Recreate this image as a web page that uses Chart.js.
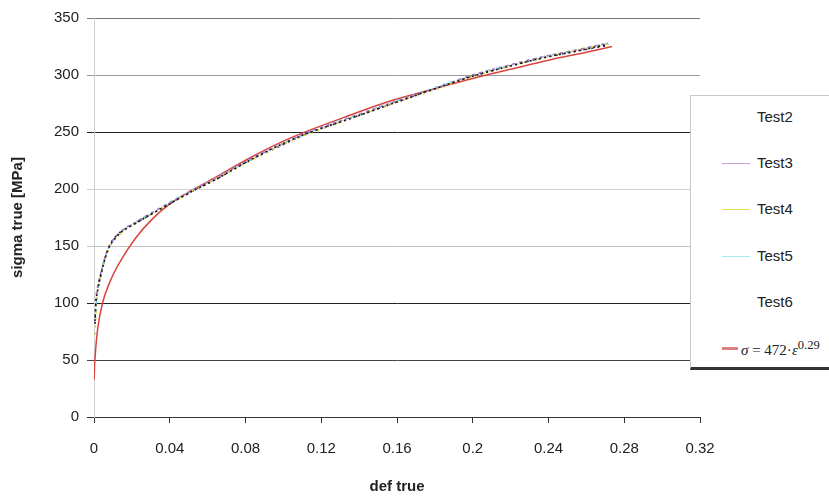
<!DOCTYPE html>
<html>
<head>
<meta charset="utf-8">
<script src="https://cdn.jsdelivr.net/npm/chart.js@4/dist/chart.umd.min.js"></script>
<style>
    html, body { margin: 0; padding: 0; background: #fff; overflow: hidden; }
    #wrap { position: relative; width: 829px; height: 500px; overflow: hidden; }
    #legendBox {
        position: absolute; left: 690px; top: 95px; width: 170px; height: 271px;
        background: #fff; border-left: 1px solid #c8c8c8; border-top: 1px solid #c8c8c8;
        border-bottom: 3px solid #333;
        font-family: "Liberation Sans", Arial, sans-serif; font-size: 15px; color: #222;
    }
    .item { position: absolute; left: 0; height: 20px; width: 170px; }
    .sample { position: absolute; left: 31px; top: 10px; width: 28px; height: 1px; }
    .label { position: absolute; left: 66px; top: 1px; white-space: nowrap; }
    .formula { font-family: "Liberation Serif", "Times New Roman", serif; font-size: 15px; left: 50px; top: 0; }
    .formula i { font-style: italic; }
</style>
</head>
<body>
<div id="wrap">
    <canvas id="myChart" width="829" height="500"></canvas>
    <div id="legendBox"></div>
</div>
<script>
// strain values (def true)
var testStrain = [0.0005, 0.001, 0.002, 0.0037, 0.006, 0.008, 0.013, 0.022, 0.0325, 0.041, 0.053, 0.065,
    0.082, 0.1, 0.113, 0.134, 0.156, 0.18, 0.2, 0.22, 0.237, 0.255, 0.2715]
// sigma true [MPa] per test
var test2Stress = [84, 100, 112, 125, 140, 149, 160, 170, 180, 188, 199, 209, 225, 240, 249, 261, 274, 288, 299, 308, 315, 321, 327]
var test3Stress = [102, 106, 115, 127, 141, 150, 161, 171, 181, 189, 200, 210, 226, 240, 250, 262, 275, 288, 300, 309, 316, 322, 328]
var test4Stress = [68, 90, 110, 124, 139, 148, 159, 170, 180, 188, 199, 209, 224, 239, 248, 261, 274, 287, 299, 308, 315, 322, 327]
var test5Stress = [88, 96, 111, 124, 140, 149, 160, 171, 181, 189, 200, 210, 225, 240, 249, 262, 275, 289, 300, 309, 316, 322, 328]
var test6Stress = [80, 98, 113, 126, 141, 150, 161, 170, 180, 188, 199, 209, 225, 239, 249, 261, 274, 288, 299, 308, 315, 321, 326]

// power law fit sigma = 472 * eps^n
var fitStrain = [0.0001, 0.0003, 0.0006, 0.001, 0.002, 0.0045, 0.008, 0.013, 0.022, 0.031, 0.041, 0.053, 0.065,
    0.082, 0.1, 0.113, 0.134, 0.156, 0.18, 0.2, 0.22, 0.24, 0.26, 0.2735]
var fitStress = [33, 45, 53, 62, 78, 100, 117, 134, 157, 174, 188, 200, 211, 227, 242, 251, 264, 277, 288, 297, 305, 313, 320, 325]

var seriesNames = ["Test2", "Test3", "Test4", "Test5", "Test6"]
var fitName = "<i>\u03c3</i> = 472\u00b7<i>\u03b5</i><sup>0.29</sup>"

var xTicks = [0, 0.04, 0.08, 0.12, 0.16, 0.2, 0.24, 0.28, 0.32]
var yTicks = [0, 50, 100, 150, 200, 250, 300, 350]

// styles
var lineColors = ["#1a1a1a", "#b070c8", "#e6cc30", "#70d8ea", "#202050"]
var legendColors = ["", "#d59ae4", "#f0da50", "#a6eaf4", ""]
var dashes = [[2, 3], [3, 4], [2, 5], [3, 5], [2, 4]]
var gridColors = { 0: "#333", 50: "#444", 100: "#222", 150: "#c4c4c4", 200: "#cfcfcf", 250: "#222", 300: "#999", 350: "#777" }

function toPoints(xs, ys) {
    return xs.map(function (x, i) { return { x: x, y: ys[i] } })
}

window.addEventListener("load", function () {
    var stresses = [test2Stress, test3Stress, test4Stress, test5Stress, test6Stress]
    var datasets = seriesNames.map(function (name, i) {
        return {
            label: name,
            data: toPoints(testStrain, stresses[i]),
            borderColor: lineColors[i],
            borderWidth: 1.6,
            borderDash: dashes[i],
            borderDashOffset: i,
            pointRadius: 0,
            showLine: true,
            cubicInterpolationMode: "monotone"
        }
    })
    datasets.push({
        label: "fit",
        data: toPoints(fitStrain, fitStress),
        borderColor: "#d9443f",
        borderWidth: 1.5,
        pointRadius: 0,
        showLine: true,
        cubicInterpolationMode: "monotone"
    })

    var font = { family: "'Liberation Sans', Arial, sans-serif", size: 15 }

    new Chart("myChart", {
        type: "scatter",
        data: { datasets: datasets },
        options: {
            responsive: false,
            animation: false,
            layout: { padding: { left: 0, right: 129, top: 18, bottom: 0 } },
            plugins: { legend: { display: false }, tooltip: { enabled: false } },
            scales: {
                x: {
                    type: "linear", min: 0, max: 0.32,
                    afterBuildTicks: function (scale) { scale.ticks = xTicks.map(function (v) { return { value: v } }) },
                    afterFit: function (scale) { scale.height = 83 },
                    ticks: {
                        color: "#222", font: font, padding: 17, maxRotation: 0,
                        callback: function (v) { return String(+v.toFixed(2)) }
                    },
                    grid: { drawOnChartArea: false, drawTicks: true, tickLength: 6, color: "#333" },
                    border: { color: "#333", width: 1 },
                    title: {
                        display: true, text: "def true", color: "#222",
                        font: { family: font.family, size: 15, weight: "bold" },
                        padding: { top: 0, bottom: 4 }
                    }
                },
                y: {
                    min: 0, max: 350,
                    afterBuildTicks: function (scale) { scale.ticks = yTicks.map(function (v) { return { value: v } }) },
                    afterFit: function (scale) { scale.width = 94 },
                    ticks: { color: "#222", font: font, padding: 8 },
                    grid: {
                        drawTicks: true, tickLength: 7, lineWidth: 1,
                        color: function (ctx) { return gridColors[ctx.tick.value] || "#999" }
                    },
                    border: { color: "#d0d0d0", width: 1 },
                    title: {
                        display: true, text: "sigma true [MPa]", color: "#222",
                        font: { family: font.family, size: 15, weight: "bold" },
                        padding: { top: 9, bottom: 0 }
                    }
                }
            }
        }
    })

    // legend box, overlapping the plot like the original
    var box = document.querySelector("#legendBox")
    var names = seriesNames.concat([fitName])
    names.forEach(function (name, i) {
        var row = document.createElement("div")
        row.className = "item"
        row.style.top = Math.round(11 + 46.2 * i) + "px"
        if (i < seriesNames.length) {
            if (legendColors[i]) {
                var s = document.createElement("div")
                s.className = "sample"
                s.style.background = legendColors[i]
                row.appendChild(s)
            }
            var t = document.createElement("span")
            t.className = "label"
            t.textContent = name
            row.appendChild(t)
        } else {
            var s2 = document.createElement("div")
            s2.className = "sample"
            s2.style.background = "#d98080"
            s2.style.height = "3px"
            s2.style.width = "16px"
            s2.style.top = "9px"
            row.appendChild(s2)
            var f = document.createElement("span")
            f.className = "label formula"
            f.innerHTML = name
            row.appendChild(f)
        }
        box.appendChild(row)
    })
})
</script>
</body>
</html>
